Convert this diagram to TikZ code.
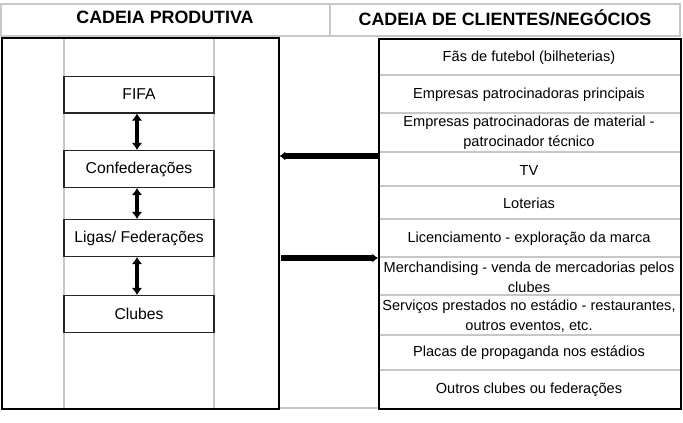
\documentclass[tikz,border=0pt]{standalone}
\usepackage{fontspec}
\setmainfont{Liberation Sans}
\usetikzlibrary{
  arrows.meta,
  positioning,
  calc
}

\begin{document}
\begin{tikzpicture}[
    x=0.7pt,y=-0.7pt,
    >=Latex,
    grade/.style={draw=black!22,line width=0.8pt},
    moldura/.style={draw=black,line width=1.1pt,inner sep=0pt,anchor=north west},
    caixa/.style={draw=black!85,line width=1pt,minimum width=105pt,
      minimum height=25.6pt,inner sep=0pt,font=\fontsize{11}{13}\selectfont},
    item/.style={align=center,font=\fontsize{10.2}{14}\selectfont},
    titulo/.style={font=\fontsize{12.5}{14}\selectfont\bfseries},
    vert/.style={{Latex[length=5pt,width=7.5pt]}-{Latex[length=5pt,width=7.5pt]},line width=2.8pt},
    horiz/.style={-{Latex[length=4pt,width=6.5pt]},line width=4pt}
    ]

    \useasboundingbox (0,0) rectangle (683,422);

    % cabecalho
    \draw[grade] (1,4) rectangle (680,36);
    \draw[grade] (330,4) -- (330,36);
    \node[titulo] (tprod) at (165,17.5) {CADEIA PRODUTIVA};
    \node[titulo] (tcli) at (505,17.5) {CADEIA DE CLIENTES/NEGÓCIOS};

    % grade da tabela
    \draw[grade] (64,36) -- (64,408);
    \draw[grade] (214,36) -- (214,408);
    \draw[grade] (278,408) -- (378,408);
    \foreach \y in {75,113,152,186,219,257,295,335,370}
      \draw[grade] (378,\y) -- (680,\y);

    % molduras
    \node[moldura,minimum width=193.9pt,minimum height=259.7pt] (prod) at (1,37) {};
    \node[moldura,minimum width=211.4pt,minimum height=259pt] (cli) at (378,38) {};

    % cadeia produtiva
    \node[caixa] (fifa) at (139,94.5) {FIFA};
    \node[caixa] (conf) at (139,169) {Confederações};
    \node[caixa] (ligas) at (139,238) {Ligas/ Federações};
    \node[caixa] (clubes) at (139,314) {Clubes};

    \draw[vert] ([xshift=-1.4pt]fifa.south) -- ([xshift=-1.4pt]conf.north);
    \draw[vert] ([xshift=-1.4pt]conf.south) -- ([xshift=-1.4pt]ligas.north);
    \draw[vert] ([xshift=-1.4pt]ligas.south) -- ([xshift=-1.4pt]clubes.north);

    % clientes e negocios
    \node[item] (fas) at (529,58) {Fãs de futebol (bilheterias)};
    \node[item] (patr) at (529,95) {Empresas patrocinadoras principais};
    \node[item] (mat) at (529,133) {Empresas patrocinadoras de material -\\patrocinador técnico};
    \node[item] (tv) at (529,170) {TV};
    \node[item] (lot) at (529,203) {Loterias};
    \node[item] (lic) at (529,238.5) {Licenciamento - exploração da marca};
    \node[item] (merch) at (529,277.5) {Merchandising - venda de mercadorias pelos\\clubes};
    \node[item] (serv) at (529,316) {Serviços prestados no estádio - restaurantes,\\outros eventos, etc.};
    \node[item] (plac) at (529,353) {Placas de propaganda nos estádios};
    \node[item] (outros) at (529,390) {Outros clubes ou federações};

    % setas entre as cadeias
    \coordinate (y1) at (0,156);
    \coordinate (y2) at (0,258);
    \draw[horiz] (cli.west |- y1) -- (prod.east |- y1);
    \draw[horiz] ([xshift=1pt]prod.east |- y2) -- (cli.west |- y2);

\end{tikzpicture}
\end{document}
